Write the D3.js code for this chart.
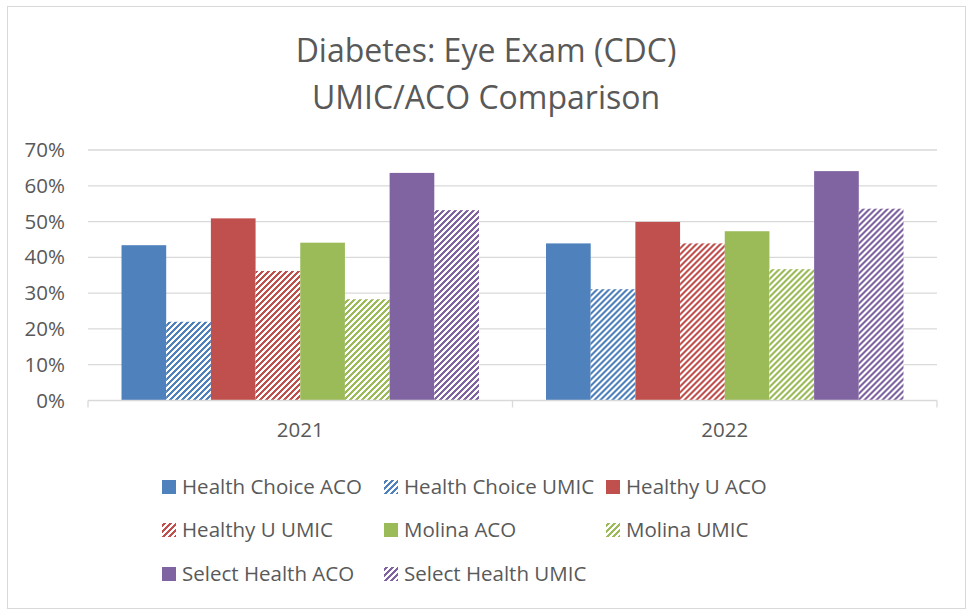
<!DOCTYPE html>
<html>
<head>
<meta charset="utf-8">
<script src="https://cdn.jsdelivr.net/npm/d3@7"></script>
<style>
  body { margin: 0; background: #fff; }
  svg { display: block; }
  text { font-family: "Open Sans", sans-serif; fill: #595959; }
</style>
</head>
<body>
<svg id="chart" width="967" height="610"></svg>
<script>
// Data
const years = ["2021", "2022"];
const seriesNames = [
    "Health Choice ACO", "Health Choice UMIC",
    "Healthy U ACO", "Healthy U UMIC",
    "Molina ACO", "Molina UMIC",
    "Select Health ACO", "Select Health UMIC"
];
const values2021 = [0.434, 0.220, 0.509, 0.362, 0.441, 0.283, 0.636, 0.532];
const values2022 = [0.439, 0.311, 0.499, 0.439, 0.473, 0.367, 0.641, 0.536];
const yTicks = [0, 0.1, 0.2, 0.3, 0.4, 0.5, 0.6, 0.7];
const titleLines = ["Diabetes: Eye Exam (CDC)", "UMIC/ACO Comparison"];

const seriesColors = ["#4F81BD", "#4F81BD", "#C0504D", "#C0504D", "#9BBB59", "#9BBB59", "#8064A2", "#8064A2"];
const hatched = [false, true, false, true, false, true, false, true];

const svg = d3.select("#chart");

// chart border
svg.append("rect")
    .attr("x", 7.5).attr("y", 6.5)
    .attr("width", 958).attr("height", 602)
    .attr("fill", "#fff")
    .attr("stroke", "#D9D9D9");

// hatch patterns (wide upward diagonal, pixel steps like Excel)
const defs = svg.append("defs");
const tile = 6;
const cells = [];
for (let r = 0; r < tile; r++) {
    for (let c = 0; c < tile; c++) {
        if ((c + r) % tile < 3) cells.push([c, r]);
    }
}
seriesColors.forEach((c, i) => {
    if (!hatched[i]) return;
    const p = defs.append("pattern")
        .attr("id", "hatch" + i)
        .attr("patternUnits", "userSpaceOnUse")
        .attr("width", tile).attr("height", tile);
    p.append("rect").attr("width", tile).attr("height", tile).attr("fill", "#fff");
    p.selectAll("rect.px")
        .data(cells)
        .join("rect")
        .attr("class", "px")
        .attr("x", d => d[0]).attr("y", d => d[1])
        .attr("width", 1).attr("height", 1)
        .attr("shape-rendering", "crispEdges")
        .attr("fill", c);
});
const fillFor = i => hatched[i] ? "url(#hatch" + i + ")" : seriesColors[i];

// Title
svg.append("g").selectAll("text")
    .data(titleLines)
    .join("text")
    .attr("x", 486)
    .attr("y", (d, i) => 62 + i * 47)
    .attr("text-anchor", "middle")
    .style("font-size", "32px")
    .text(d => d);

// Scales
const plot = { left: 88, right: 937, top: 150, bottom: 400.5 };

const x0 = d3.scaleBand()
    .domain(years)
    .range([plot.left, plot.right])
    .padding(0);

const x1 = d3.scaleBand()
    .domain(seriesNames)
    .range([0, x0.bandwidth()])
    .paddingInner(0)
    .paddingOuter(0.75);

const y = d3.scaleLinear()
    .domain([0, 0.7])
    .range([plot.bottom, plot.top]);

// Gridlines
svg.append("g")
    .selectAll("line")
    .data(yTicks.slice(1))
    .join("line")
    .attr("x1", plot.left).attr("x2", plot.right)
    .attr("y1", d => y(d)).attr("y2", d => y(d))
    .attr("stroke", "#D9D9D9")
    .attr("stroke-width", 1.3);

// Y axis labels
const yAxis = d3.axisLeft(y)
    .tickValues(yTicks)
    .tickFormat(d3.format(".0%"))
    .tickSize(0)
    .tickPadding(23);

svg.append("g")
    .attr("transform", "translate(" + plot.left + ",0)")
    .call(yAxis)
    .call(g => g.select(".domain").remove())
    .selectAll("text")
    .style("font-size", "20.5px")
    .style("font-family", "'Open Sans', sans-serif")
    .attr("fill", "#595959");

// Bars
const rows = years.map((yr, yi) => ({
    year: yr,
    vals: yi === 0 ? values2021 : values2022
}));

const groups = svg.append("g")
    .selectAll("g")
    .data(rows)
    .join("g")
    .attr("transform", d => "translate(" + x0(d.year) + ",0)");

groups.selectAll("rect")
    .data(d => d.vals.map((v, i) => ({ name: seriesNames[i], value: v, i: i })))
    .join("rect")
    .attr("x", d => x1(d.name))
    .attr("width", x1.bandwidth())
    .attr("y", d => y(d.value))
    .attr("height", d => y(0) - y(d.value))
    .attr("fill", d => fillFor(d.i));

// X axis
const xAxis = d3.axisBottom(x0)
    .tickSize(0)
    .tickPadding(22);

const xg = svg.append("g")
    .attr("transform", "translate(0," + plot.bottom + ")")
    .call(xAxis);
xg.select(".domain").remove();
xg.selectAll("text")
    .style("font-size", "20.5px")
    .style("font-family", "'Open Sans', sans-serif")
    .attr("fill", "#595959");

xg.append("line")
    .attr("x1", plot.left).attr("x2", plot.right)
    .attr("stroke", "#D9D9D9").attr("stroke-width", 1.3);
xg.selectAll(".sep")
    .data([plot.left, x0("2022"), plot.right])
    .join("line")
    .attr("class", "sep")
    .attr("x1", d => d).attr("x2", d => d)
    .attr("y1", 0).attr("y2", 7)
    .attr("stroke", "#D9D9D9").attr("stroke-width", 1.3);

// Legend
const legendCols = [162, 384, 606];
const legendRows = [487, 530, 574];

const legend = svg.append("g")
    .selectAll("g")
    .data(seriesNames)
    .join("g")
    .attr("transform", (d, i) => "translate(" + legendCols[i % 3] + "," + legendRows[Math.floor(i / 3)] + ")");

legend.append("rect")
    .attr("x", 0).attr("y", -7)
    .attr("width", 14).attr("height", 14)
    .attr("fill", (d, i) => fillFor(i));

legend.append("text")
    .attr("x", 20)
    .attr("dy", "0.35em")
    .style("font-size", "20.5px")
    .text(d => d);
</script>
</body>
</html>
